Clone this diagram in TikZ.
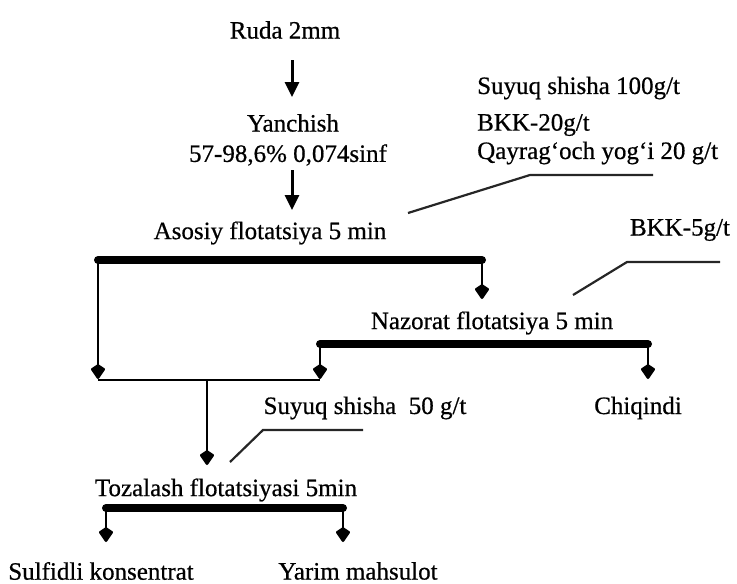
\documentclass[tikz,border=0pt]{standalone}
\usepackage{fontspec}
\setmainfont{Liberation Serif}[FakeBold=0.6]
\usetikzlibrary{arrows.meta}
\begin{document}
\begin{tikzpicture}[x=1pt,y=-1pt,
  lbl/.style={inner sep=0pt, font=\fontsize{25}{28}\selectfont},
  bar/.style={line width=8pt, line cap=round},
  feed/.style={line width=2.5pt},
  tip/.style={-{Kite[length=16pt,width=15pt,inset=5pt,round]}, line width=2.5pt},
  bigarrow/.style={-{Triangle[length=15pt,width=14pt]}, line width=3pt},
  leader/.style={line width=2.2pt, draw=black!85}]
\useasboundingbox (0,0) rectangle (737,584);

% process stages and products
\node[lbl] (ruda)    at (285,30)  {Ruda 2mm};
\node[lbl] (yan)     at (293,123) {Yanchish};
\node[lbl] (cls)     at (288,155) {57-98,6\% 0,074sinf};
\node[lbl] (asosiy)  at (270,233) {Asosiy flotatsiya 5 min};
\node[lbl] (nazorat) at (492,323) {Nazorat flotatsiya 5 min};
\node[lbl] (chiq)    at (638,408) {Chiqindi};
\node[lbl] (toz)     at (226,490) {Tozalash flotatsiyasi 5min};
\node[lbl] (sulf)    at (101,571) {Sulfidli konsentrat};
\node[lbl] (yarim)   at (358,571) {Yarim mahsulot};

% reagents
\node[lbl, anchor=west] (r1) at (477,88)  {Suyuq shisha 100g/t};
\node[lbl, anchor=west] (r2) at (477,125) {BKK-20g/t};
\node[lbl, anchor=west] (r3) at (477,153) {Qayrag‘och yog‘i 20 g/t};
\node[lbl] (r4) at (680,230) {BKK-5g/t};
\node[lbl] (r5) at (365,408) {Suyuq shisha\ \ 50 g/t};

% main feed arrows
\coordinate (a1s) at (292,60);  \coordinate (a1e) at (292,97);
\coordinate (a2s) at (292,170); \coordinate (a2e) at (292,210);
\draw[bigarrow] (a1s) -- (a1e);
\draw[bigarrow] (a2s) -- (a2e);

% rougher flotation bar and its outputs
\coordinate (b1l) at (98,260);  \coordinate (b1r) at (482,260);
\coordinate (n1)  at (482,299);
\coordinate (j1)  at (98,379);
\draw[bar] (b1l) -- (b1r);
\draw[tip] (b1r) -- (n1);
\draw[tip] (b1l) -- (j1);

% scavenger flotation bar and its outputs
\coordinate (b2l) at (320,344); \coordinate (b2r) at (648,344);
\coordinate (j2)  at (320,379); \coordinate (w1) at (648,379);
\draw[bar] (b2l) -- (b2r);
\draw[tip] (b2l) -- (j2);
\draw[tip] (b2r) -- (w1);

% combined concentrate to cleaner
\coordinate (jl) at (98,380); \coordinate (jr) at (320,380);
\coordinate (jm) at (207,380); \coordinate (t1) at (207,465);
\draw[feed] (jl) -- (jr);
\draw[tip] (jm) -- (t1);

% cleaner flotation bar and its outputs
\coordinate (b3l) at (106,508); \coordinate (b3r) at (343,508);
\coordinate (p1)  at (106,542); \coordinate (p2)  at (343,542);
\draw[bar] (b3l) -- (b3r);
\draw[tip] (b3l) -- (p1);
\draw[tip] (b3r) -- (p2);

% reagent leaders
\draw[leader] (408,213) -- (530,175) -- (653,175);
\draw[leader] (573,295) -- (627,262) -- (720,262);
\draw[leader] (230,462) -- (263,430) -- (363,430);
\end{tikzpicture}
\end{document}
